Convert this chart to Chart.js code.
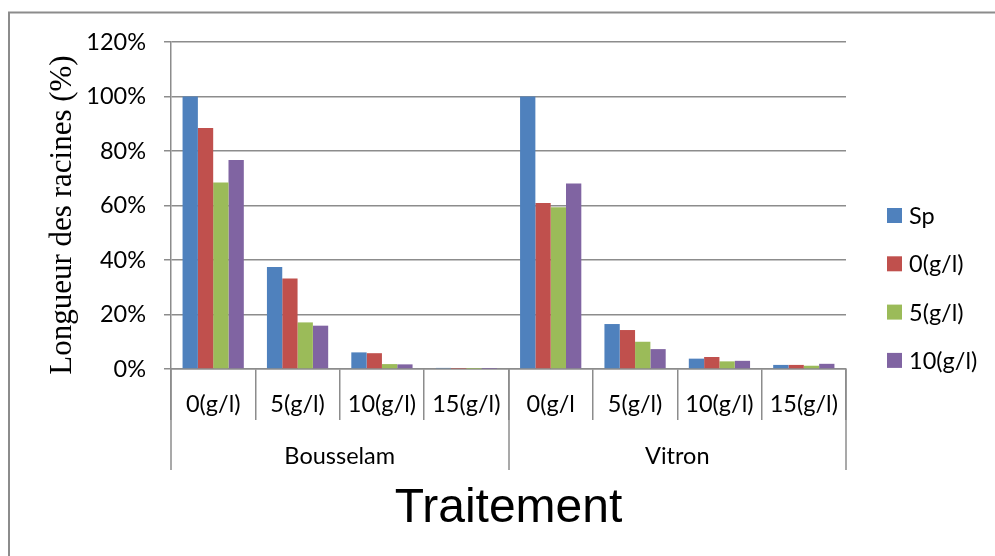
<!DOCTYPE html>
<html>
<head>
<meta charset="utf-8">
<script src="https://cdn.jsdelivr.net/npm/chart.js@4/dist/chart.umd.min.js"></script>
<style>
  html, body { margin: 0; padding: 0; background: #fff; }
  canvas { display: block; }
</style>
</head>
<body>
<canvas id="chart" width="995" height="556"></canvas>
<script>
// Root length relative to control, by variety and NaCl treatment
const categories = ['0(g/l)', '5(g/l)', '10(g/l)', '15(g/l)', '0(g/l', '5(g/l)', '10(g/l)', '15(g/l)'];
const groups = ['Bousselam', 'Vitron'];
const seriesNames = ['Sp', '0(g/l)', '5(g/l)', '10(g/l)'];
const sp     = [100, 37.4, 6.1, 0.4, 100, 16.5, 3.8, 1.5];
const salt0  = [88.4, 33.2, 5.8, 0.1, 60.9, 14.3, 4.4, 1.5];
const salt5  = [68.4, 17.1, 1.8, 0.05, 59.4, 10.0, 2.8, 1.2];
const salt10 = [76.7, 15.9, 1.7, 0.05, 68.1, 7.3, 3.0, 1.9];
const yTicks = [0, 20, 40, 60, 80, 100, 120];
const colors = ['#4F81BD', '#C0504D', '#9BBB59', '#8064A2'];

const axisGray = '#8c8c8c';
const tickFont = { family: 'Lato', size: 23.5 };

const seriesValues = [sp, salt0, salt5, salt10];

// Frame, titles, group labels and legend
const decorations = {
  id: 'decorations',
  afterDraw(chart) {
    const ctx = chart.ctx;
    const area = chart.chartArea;
    const x = chart.scales.x;
    ctx.save();

    // outer frame (left and top edges)
    ctx.strokeStyle = axisGray;
    ctx.lineWidth = 2;
    ctx.beginPath();
    ctx.moveTo(9, 556);
    ctx.lineTo(9, 12.5);
    ctx.lineTo(995, 12.5);
    ctx.stroke();

    // long separators between the varieties
    const step = x.getPixelForTick(1) - x.getPixelForTick(0);
    const perGroup = categories.length / groups.length;
    ctx.lineWidth = 1.5;
    for (let g = 0; g <= groups.length; g++) {
      const px = Math.round(x.getPixelForTick(0) - step / 2 + g * perGroup * step);
      ctx.beginPath();
      ctx.moveTo(px, area.bottom);
      ctx.lineTo(px, 470);
      ctx.stroke();
    }

    // variety labels
    ctx.fillStyle = '#000';
    ctx.font = '23.5px Lato';
    ctx.textAlign = 'center';
    ctx.textBaseline = 'middle';
    groups.forEach((name, g) => {
      const first = x.getPixelForTick(g * perGroup);
      const last = x.getPixelForTick(g * perGroup + perGroup - 1);
      ctx.fillText(name, (first + last) / 2, 456);
    });

    // x axis title
    ctx.font = '48px "Liberation Sans"';
    ctx.textBaseline = 'alphabetic';
    ctx.fillText('Traitement', (area.left + area.right) / 2, 522);

    // y axis title
    ctx.save();
    ctx.translate(63, 215);
    ctx.rotate(-Math.PI / 2);
    ctx.font = '31px "Liberation Serif"';
    ctx.textBaseline = 'middle';
    ctx.fillText('Longueur des racines (%)', 0, 0);
    ctx.restore();

    // legend
    ctx.font = '23.5px Lato';
    ctx.textAlign = 'left';
    ctx.textBaseline = 'middle';
    seriesNames.forEach((name, i) => {
      const cy = 215.5 + i * 48.3;
      ctx.fillStyle = colors[i];
      ctx.fillRect(887, cy - 7.5, 15, 15);
      ctx.fillStyle = '#000';
      ctx.fillText(name, 909, cy + 1);
    });

    ctx.restore();
  }
};

new Chart(document.getElementById('chart'), {
  type: 'bar',
  data: {
    labels: categories,
    datasets: seriesNames.map((name, i) => ({
      label: name,
      data: seriesValues[i],
      backgroundColor: colors[i],
      borderWidth: 0
    }))
  },
  options: {
    responsive: false,
    animation: false,
    devicePixelRatio: 1,
    layout: { padding: { left: 0, top: 42, right: 149, bottom: 0 } },
    plugins: { legend: { display: false }, tooltip: { enabled: false } },
    datasets: { bar: { categoryPercentage: 0.726, barPercentage: 1.0 } },
    scales: {
      x: {
        offset: true,
        grid: {
          display: true,
          offset: true,
          drawOnChartArea: false,
          drawTicks: true,
          tickLength: 51,
          color: axisGray,
          lineWidth: 1.5
        },
        border: { display: true, color: axisGray, width: 1.5 },
        ticks: {
          color: '#000',
          font: tickFont,
          padding: -30,
          maxRotation: 0,
          autoSkip: false
        },
        afterFit(scale) { scale.height = 187; }
      },
      y: {
        min: 0,
        max: 120,
        afterBuildTicks(scale) { scale.ticks = yTicks.map(v => ({ value: v })); },
        grid: { color: axisGray, lineWidth: 1.5, tickLength: 7 },
        border: { display: true, color: axisGray, width: 1.5 },
        ticks: {
          color: '#000',
          font: tickFont,
          padding: 18,
          callback: v => v + '%'
        },
        afterFit(scale) { scale.width = 171; }
      }
    }
  },
  plugins: [decorations]
});
</script>
</body>
</html>
